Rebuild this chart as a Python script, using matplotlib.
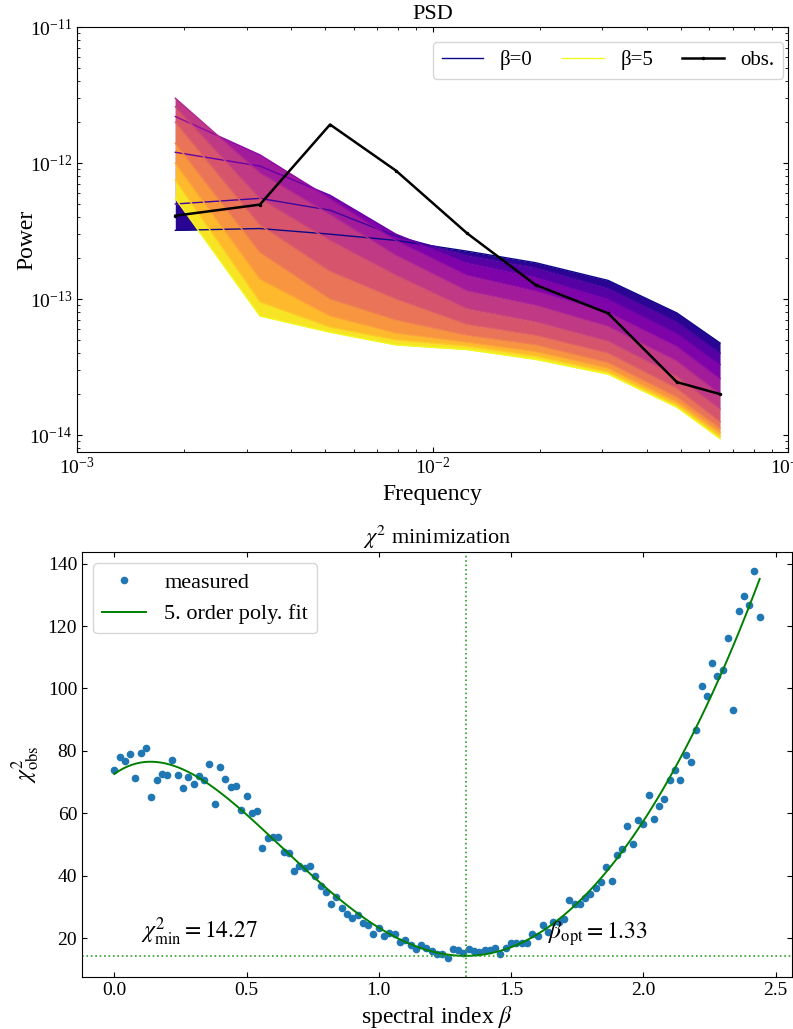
import numpy as np
import matplotlib
matplotlib.use("Agg")
import matplotlib.pyplot as plt
from matplotlib.lines import Line2D

plt.rcParams.update({
    "font.family": ["Liberation Serif", "DejaVu Serif"],
    "mathtext.fontset": "stix",
    "font.size": 14,
    "xtick.direction": "in",
    "ytick.direction": "in",
    "xtick.top": True,
    "ytick.right": True,
})

# --- PSD panel: binned frequencies, observed PSD, simulated PSDs per beta
freq = [1.89e-3, 3.27e-3, 5.15e-3, 7.89e-3, 1.25e-2, 1.95e-2, 3.12e-2, 4.87e-2, 6.44e-2]
obs_power = [4.1e-13, 4.95e-13, 1.92e-12, 8.8e-13, 3.05e-13, 1.27e-13, 7.85e-14, 2.45e-14, 2.0e-14]

psd_beta = [0.0, 0.5, 1.0, 1.5, 2.0, 2.5, 3.0, 3.5, 4.0, 4.5, 5.0]
psd_b0_0 = [3.2e-13, 3.3e-13, 3.0e-13, 2.7e-13, 2.25e-13, 1.85e-13, 1.37e-13, 7.9e-14, 4.75e-14]
psd_b0_5 = [5.0e-13, 5.5e-13, 4.5e-13, 2.9e-13, 2.1e-13, 1.7e-13, 1.2e-13, 6.8e-14, 4.0e-14]
psd_b1_0 = [1.2e-12, 9.5e-13, 5.8e-13, 3.0e-13, 1.85e-13, 1.45e-13, 1.0e-13, 5.6e-14, 3.3e-14]
psd_b1_5 = [2.2e-12, 1.15e-12, 5.5e-13, 2.7e-13, 1.5e-13, 1.15e-13, 8.0e-14, 4.5e-14, 2.6e-14]
psd_b2_0 = [3.0e-12, 8.5e-13, 4.2e-13, 2.1e-13, 1.15e-13, 9.0e-14, 6.3e-14, 3.5e-14, 2.0e-14]
psd_b2_5 = [2.6e-12, 5.5e-13, 2.7e-13, 1.5e-13, 8.5e-14, 6.8e-14, 4.9e-14, 2.7e-14, 1.55e-14]
psd_b3_0 = [2.0e-12, 3.5e-13, 1.6e-13, 1.0e-13, 6.5e-14, 5.4e-14, 4.0e-14, 2.2e-14, 1.25e-14]
psd_b3_5 = [1.4e-12, 2.2e-13, 1.0e-13, 7.0e-14, 5.4e-14, 4.6e-14, 3.4e-14, 1.9e-14, 1.12e-14]
psd_b4_0 = [1.0e-12, 1.4e-13, 7.5e-14, 5.6e-14, 4.8e-14, 4.1e-14, 3.1e-14, 1.75e-14, 1.04e-14]
psd_b4_5 = [7.5e-13, 9.5e-14, 6.2e-14, 5.0e-14, 4.5e-14, 3.8e-14, 2.9e-14, 1.66e-14, 9.8e-15]
psd_b5_0 = [5.5e-13, 7.5e-14, 5.7e-14, 4.6e-14, 4.25e-14, 3.6e-14, 2.8e-14, 1.6e-14, 9.4e-15]
psd_sims = [psd_b0_0, psd_b0_5, psd_b1_0, psd_b1_5, psd_b2_0, psd_b2_5,
            psd_b3_0, psd_b3_5, psd_b4_0, psd_b4_5, psd_b5_0]

# --- chi^2 panel: scan over beta (step 0.02)
chi2_obs = [
    73.8, 78.2, 76.9, 78.9, 71.5, 79.5, 80.8, 65.3, 70.6, 72.5,
    72.3, 77.2, 72.3, 68.0, 71.8, 69.5, 72.1, 70.6, 75.7, 63.0,
    75.0, 71.0, 68.6, 68.8, 61.1, 65.7, 60.1, 60.7, 49.0, 52.2,
    52.5, 52.5, 47.6, 47.4, 41.7, 43.1, 42.6, 43.1, 39.9, 36.9,
    34.8, 30.9, 33.3, 29.8, 27.9, 26.4, 27.4, 25.0, 24.4, 21.5,
    23.2, 20.7, 21.8, 21.5, 18.8, 19.5, 17.8, 16.7, 17.8, 17.0,
    15.8, 14.9, 14.9, 13.8, 16.7, 16.2, 15.2, 16.7, 15.9, 15.6,
    16.4, 16.3, 17.0, 14.9, 17.0, 18.4, 18.6, 18.6, 18.4, 21.3,
    20.7, 24.3, 22.0, 25.2, 25.3, 26.1, 32.2, 30.9, 30.9, 33.0,
    34.1, 36.2, 38.1, 42.9, 38.4, 46.6, 48.7, 55.9, 50.3, 57.8,
    56.7, 66.0, 58.1, 62.4, 64.7, 70.6, 73.8, 70.6, 78.7, 76.6,
    86.8, 100.7, 97.6, 108.2, 104.1, 106.0, 116.2, 93.1, 124.8, 129.5,
    126.6, 137.5, 122.9,
]
beta_scan = np.linspace(0.0, 2.44, len(chi2_obs))
beta_opt = 1.33
chi2_min = 14.27

fig = plt.figure(figsize=(7.93, 10.29), dpi=100)
cmap = plt.get_cmap("plasma")
bmax = psd_beta[-1]

# top: PSD (drawn in beta order, later ones on top)
ax1 = fig.add_axes([0.0971, 0.5607, 0.8966, 0.4130])
for i, (b, p) in enumerate(zip(psd_beta, psd_sims)):
    ax1.plot(freq, p, color=cmap(b / bmax), lw=1.0)
    if i < len(psd_sims) - 1:
        mid = 0.5 * (b + psd_beta[i + 1])
        ax1.fill_between(freq, p, psd_sims[i + 1], color=cmap(mid / bmax), lw=0)
ax1.plot(freq, obs_power, color="k", lw=1.8, marker=".", ms=3)
ax1.set_xscale("log")
ax1.set_yscale("log")
ax1.set_xlim(1e-3, 1e-1)
ax1.set_ylim(7.5e-15, 1e-11)
ax1.set_xlabel("Frequency", fontsize=17)
ax1.set_ylabel("Power", fontsize=17, labelpad=-6)
ax1.set_title("PSD", fontsize=16)
handles = [
    Line2D([], [], color=cmap(0.0), lw=1.0),
    Line2D([], [], color=cmap(1.0), lw=1.0),
    Line2D([], [], color="k", lw=1.8, marker=".", ms=3),
]
ax1.legend(handles, ["β=0", "β=5", "obs."], ncol=3, loc="upper right",
           fontsize=15, columnspacing=1.4, borderaxespad=0,
           bbox_to_anchor=(0.993, 0.965))

# bottom: chi^2 minimization
ax2 = fig.add_axes([0.1034, 0.0505, 0.8953, 0.4130])
ax2.plot(beta_scan, chi2_obs, "o", color="#1f77b4", ms=4.5, label="measured")
coef = np.polyfit(beta_scan, chi2_obs, 5)
bfine = np.linspace(beta_scan[0], beta_scan[-1], 300)
ax2.plot(bfine, np.polyval(coef, bfine), color="green", lw=1.4, label="5. order poly. fit")
ax2.axvline(beta_opt, color="tab:green", ls=":", lw=1.2)
ax2.axhline(chi2_min, color="tab:green", ls=":", lw=1.2)
ax2.text(0.10, 20.0, r"$\chi^2_{\rm min} = %.2f$" % chi2_min, fontsize=17)
ax2.text(1.64, 20.0, r"$\beta_{\rm opt} = %.2f$" % beta_opt, fontsize=17)
ax2.set_xlabel(r"spectral index $\beta$", fontsize=17)
ax2.set_ylabel(r"$\chi^2_{\rm obs}$", fontsize=17)
ax2.set_title(r"$\chi^2$ minimization", fontsize=16)
ax2.legend(loc="upper left", fontsize=16)

fig.savefig("out.png", dpi=100)
